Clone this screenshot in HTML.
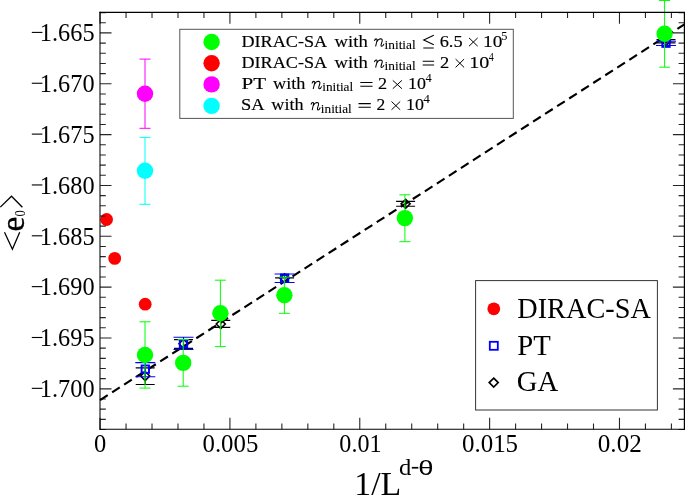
<!DOCTYPE html><html><head><meta charset="utf-8"><style>html,body{margin:0;padding:0;background:#fff;width:685px;height:495px;overflow:hidden}svg{display:block}text{font-family:"Liberation Serif",serif;fill:#000}</style></head><body>
<svg width="685" height="495" viewBox="0 0 685 495">
<defs><filter id="bl" x="-5%" y="-5%" width="110%" height="110%"><feGaussianBlur stdDeviation="0.4"/></filter></defs><g filter="url(#bl)"><rect x="-10" y="-10" width="705" height="515" fill="#fff"/>
<line x1="100.07" y1="400.1" x2="684.40" y2="24.38" stroke="#000" stroke-width="2.15" stroke-dasharray="9.1 5.2"/>
<path d="M145.2 367.8V384.5M135.7 367.8H154.7M135.7 384.5H154.7" stroke="#000" stroke-width="1.15" fill="none"/>
<path d="M145.2 371.50L149.70 376.0L145.2 380.50L140.70 376.0Z" stroke="#000" stroke-width="1.6" fill="none"/>
<path d="M183.5 339.6V348.4M174.0 339.6H193.0M174.0 348.4H193.0" stroke="#000" stroke-width="1.15" fill="none"/>
<path d="M183.5 339.30L188.00 343.8L183.5 348.30L179.00 343.8Z" stroke="#000" stroke-width="1.6" fill="none"/>
<path d="M220.75 320.3V327.4M211.25 320.3H230.25M211.25 327.4H230.25" stroke="#000" stroke-width="1.15" fill="none"/>
<path d="M220.75 319.50L225.25 324.0L220.75 328.50L216.25 324.0Z" stroke="#000" stroke-width="1.6" fill="none"/>
<path d="M284.6 277.75V277.95M275.1 277.75H294.1M275.1 277.95H294.1" stroke="#000" stroke-width="1.15" fill="none"/>
<path d="M284.6 273.80L289.10 278.3L284.6 282.80L280.10 278.3Z" stroke="#000" stroke-width="1.6" fill="none"/>
<path d="M405.6 201.4V206.2M396.1 201.4H415.1M396.1 206.2H415.1" stroke="#000" stroke-width="1.15" fill="none"/>
<path d="M405.6 199.35L410.10 203.85L405.6 208.35L401.10 203.85Z" stroke="#000" stroke-width="1.6" fill="none"/>
<path d="M666.0 39.6V42.9M656.5 39.6H675.5M656.5 42.9H675.5" stroke="#000" stroke-width="1.15" fill="none"/>
<path d="M666.0 36.70L670.50 41.2L666.0 45.70L661.50 41.2Z" stroke="#000" stroke-width="1.6" fill="none"/>
<path d="M145.3 362.6V376.7M135.3 362.6H155.3M135.3 376.7H155.3" stroke="#0000ff" stroke-width="1.05" fill="none"/>
<rect x="141.60000000000002" y="365.5" width="7.4" height="7.4" stroke="#0000ff" stroke-width="1.9" fill="none"/>
<path d="M183.5 337.2V349.4M173.5 337.2H193.5M173.5 349.4H193.5" stroke="#0000ff" stroke-width="1.05" fill="none"/>
<rect x="179.8" y="339.90000000000003" width="7.4" height="7.4" stroke="#0000ff" stroke-width="1.9" fill="none"/>
<path d="M284.6 274.0V282.5M274.6 274.0H294.6M274.6 282.5H294.6" stroke="#0000ff" stroke-width="1.05" fill="none"/>
<rect x="280.90000000000003" y="274.5" width="7.4" height="7.4" stroke="#0000ff" stroke-width="1.9" fill="none"/>
<path d="M666.0 41.3V45.4M656.0 41.3H676.0M656.0 45.4H676.0" stroke="#0000ff" stroke-width="1.05" fill="none"/>
<rect x="662.3" y="39.5" width="7.4" height="7.4" stroke="#0000ff" stroke-width="1.9" fill="none"/>
<path d="M145.0 321.8V388.1M139.5 321.8H150.5M139.5 388.1H150.5" stroke="#00ff00" stroke-width="1.0" fill="none"/>
<path d="M183.2 339.6V386.2M177.7 339.6H188.7M177.7 386.2H188.7" stroke="#00ff00" stroke-width="1.0" fill="none"/>
<path d="M220.4 280.2V346.6M214.9 280.2H225.9M214.9 346.6H225.9" stroke="#00ff00" stroke-width="1.0" fill="none"/>
<path d="M284.4 277.1V313.3M278.9 277.1H289.9M278.9 313.3H289.9" stroke="#00ff00" stroke-width="1.0" fill="none"/>
<path d="M404.9 194.8V241.7M399.4 194.8H410.4M399.4 241.7H410.4" stroke="#00ff00" stroke-width="1.0" fill="none"/>
<path d="M664.6 0.5V67.2M659.1 0.5H670.1M659.1 67.2H670.1" stroke="#00ff00" stroke-width="1.0" fill="none"/>
<circle cx="145.0" cy="355.0" r="8.2" fill="#00ff00"/>
<circle cx="183.2" cy="362.9" r="8.2" fill="#00ff00"/>
<circle cx="220.4" cy="313.2" r="8.2" fill="#00ff00"/>
<circle cx="284.4" cy="295.2" r="8.2" fill="#00ff00"/>
<circle cx="404.9" cy="218.1" r="8.2" fill="#00ff00"/>
<circle cx="664.6" cy="33.7" r="8.2" fill="#00ff00"/>
<circle cx="106.6" cy="219.5" r="6.4" fill="#ff0000"/>
<circle cx="114.7" cy="258.4" r="6.4" fill="#ff0000"/>
<circle cx="145.2" cy="304.2" r="6.4" fill="#ff0000"/>
<path d="M145.0 59.1V128.3M139.5 59.1H150.5M139.5 128.3H150.5" stroke="#ff00ff" stroke-width="1.0" fill="none"/>
<circle cx="145.0" cy="93.7" r="8.2" fill="#ff00ff"/>
<path d="M145.0 137.4V204.3M139.5 137.4H150.5M139.5 204.3H150.5" stroke="#00ffff" stroke-width="1.0" fill="none"/>
<circle cx="145.0" cy="170.8" r="8.2" fill="#00ffff"/>
<path d="M100.0 429.51h5.8M684.4 429.51h-5.8M100.0 419.34h5.8M684.4 419.34h-5.8M100.0 409.17h5.8M684.4 409.17h-5.8M100.0 399.00h5.8M684.4 399.00h-5.8M100.0 388.83h11.5M684.4 388.83h-11.5M100.0 378.67h5.8M684.4 378.67h-5.8M100.0 368.50h5.8M684.4 368.50h-5.8M100.0 358.33h5.8M684.4 358.33h-5.8M100.0 348.16h5.8M684.4 348.16h-5.8M100.0 337.99h11.5M684.4 337.99h-11.5M100.0 327.82h5.8M684.4 327.82h-5.8M100.0 317.65h5.8M684.4 317.65h-5.8M100.0 307.48h5.8M684.4 307.48h-5.8M100.0 297.31h5.8M684.4 297.31h-5.8M100.0 287.14h11.5M684.4 287.14h-11.5M100.0 276.98h5.8M684.4 276.98h-5.8M100.0 266.81h5.8M684.4 266.81h-5.8M100.0 256.64h5.8M684.4 256.64h-5.8M100.0 246.47h5.8M684.4 246.47h-5.8M100.0 236.30h11.5M684.4 236.30h-11.5M100.0 226.13h5.8M684.4 226.13h-5.8M100.0 215.96h5.8M684.4 215.96h-5.8M100.0 205.79h5.8M684.4 205.79h-5.8M100.0 195.62h5.8M684.4 195.62h-5.8M100.0 185.45h11.5M684.4 185.45h-11.5M100.0 175.29h5.8M684.4 175.29h-5.8M100.0 165.12h5.8M684.4 165.12h-5.8M100.0 154.95h5.8M684.4 154.95h-5.8M100.0 144.78h5.8M684.4 144.78h-5.8M100.0 134.61h11.5M684.4 134.61h-11.5M100.0 124.44h5.8M684.4 124.44h-5.8M100.0 114.27h5.8M684.4 114.27h-5.8M100.0 104.10h5.8M684.4 104.10h-5.8M100.0 93.93h5.8M684.4 93.93h-5.8M100.0 83.76h11.5M684.4 83.76h-11.5M100.0 73.60h5.8M684.4 73.60h-5.8M100.0 63.43h5.8M684.4 63.43h-5.8M100.0 53.26h5.8M684.4 53.26h-5.8M100.0 43.09h5.8M684.4 43.09h-5.8M100.0 32.92h11.5M684.4 32.92h-11.5M100.0 22.75h5.8M684.4 22.75h-5.8M100.0 12.58h5.8M684.4 12.58h-5.8M100.07 429.25v-11.5M100.07 12.3v11.5M126.04 429.25v-5.8M126.04 12.3v5.8M152.01 429.25v-5.8M152.01 12.3v5.8M177.98 429.25v-5.8M177.98 12.3v5.8M203.95 429.25v-5.8M203.95 12.3v5.8M229.92 429.25v-11.5M229.92 12.3v11.5M255.89 429.25v-5.8M255.89 12.3v5.8M281.86 429.25v-5.8M281.86 12.3v5.8M307.83 429.25v-5.8M307.83 12.3v5.8M333.80 429.25v-5.8M333.80 12.3v5.8M359.77 429.25v-11.5M359.77 12.3v11.5M385.74 429.25v-5.8M385.74 12.3v5.8M411.71 429.25v-5.8M411.71 12.3v5.8M437.68 429.25v-5.8M437.68 12.3v5.8M463.65 429.25v-5.8M463.65 12.3v5.8M489.62 429.25v-11.5M489.62 12.3v11.5M515.59 429.25v-5.8M515.59 12.3v5.8M541.56 429.25v-5.8M541.56 12.3v5.8M567.53 429.25v-5.8M567.53 12.3v5.8M593.50 429.25v-5.8M593.50 12.3v5.8M619.47 429.25v-11.5M619.47 12.3v11.5M645.44 429.25v-5.8M645.44 12.3v5.8M671.41 429.25v-5.8M671.41 12.3v5.8" stroke="#000" stroke-width="1.1" stroke-opacity="0.85" fill="none"/>
<path d="M100.0 11.65V429.8" stroke="#000" stroke-width="1.05" fill="none"/>
<path d="M99.5 429.25H685.05" stroke="#000" stroke-width="1.1" fill="none"/>
<path d="M99.5 12.3H685.05M684.4 12.3V429.8" stroke="#000" stroke-width="1.2" fill="none"/>
<text transform="translate(39.83,41.12) scale(0.9304,1)" font-size="26.15">1.665</text>
<rect x="31.8" y="31.87" width="10.6" height="1.1" fill="#000"/>
<text transform="translate(39.83,91.96) scale(0.9304,1)" font-size="26.15">1.670</text>
<rect x="31.8" y="82.71" width="10.6" height="1.1" fill="#000"/>
<text transform="translate(39.83,142.81) scale(0.9304,1)" font-size="26.15">1.675</text>
<rect x="31.8" y="133.56" width="10.6" height="1.1" fill="#000"/>
<text transform="translate(39.83,193.65) scale(0.9304,1)" font-size="26.15">1.680</text>
<rect x="31.8" y="184.40" width="10.6" height="1.1" fill="#000"/>
<text transform="translate(39.83,244.50) scale(0.9304,1)" font-size="26.15">1.685</text>
<rect x="31.8" y="235.25" width="10.6" height="1.1" fill="#000"/>
<text transform="translate(39.83,295.34) scale(0.9304,1)" font-size="26.15">1.690</text>
<rect x="31.8" y="286.09" width="10.6" height="1.1" fill="#000"/>
<text transform="translate(39.83,346.19) scale(0.9304,1)" font-size="26.15">1.695</text>
<rect x="31.8" y="336.94" width="10.6" height="1.1" fill="#000"/>
<text transform="translate(39.83,397.03) scale(0.9304,1)" font-size="26.15">1.700</text>
<rect x="31.8" y="387.78" width="10.6" height="1.1" fill="#000"/>
<text transform="translate(94.02,452.04) scale(0.9568,1)" font-size="25.63">0</text>
<text transform="translate(202.51,452.04) scale(0.9691,1)" font-size="25.63">0.005</text>
<text transform="translate(339.34,452.04) scale(0.9411,1)" font-size="25.63">0.01</text>
<text transform="translate(462.00,452.04) scale(0.9727,1)" font-size="25.63">0.015</text>
<text transform="translate(597.79,452.04) scale(0.9807,1)" font-size="25.63">0.02</text>
<text transform="translate(354.33,495.30) scale(0.9756,1)" font-size="34.66">1/L</text>
<text transform="translate(399.04,474.77) scale(1.0777,1)" font-size="22.84">d</text>
<rect x="411.8" y="466.9" width="6.5" height="1.7" fill="#000"/>
<text transform="translate(418.23,474.80) scale(1.3924,1)" font-size="19.73" style="font-family:&quot;Liberation Sans&quot;,sans-serif">θ</text>
<path d="M0.3 207.1L11.5 196.2L22.4 207.3" stroke="#000" stroke-width="1.3" fill="none"/>
<path d="M4.5 232.2L12.4 249.2L19.7 232.2" stroke="#000" stroke-width="1.3" fill="none"/>
<g transform="translate(24.2,231.5) rotate(-90) scale(0.97,1)"><text x="0" y="0" font-size="34.5" stroke="#000" stroke-width="0.35">e</text></g>
<g transform="translate(24.6,216.6) rotate(-90) scale(0.9,1)"><text x="0" y="0" font-size="14">0</text></g>
<rect x="179.8" y="29.3" width="333.5" height="89.1" fill="none" stroke="#555" stroke-width="1"/>
<circle cx="211.6" cy="42.0" r="8.2" fill="#00ff00"/>
<circle cx="211.6" cy="63.3" r="8.2" fill="#ff0000"/>
<circle cx="211.6" cy="84.4" r="8.2" fill="#ff00ff"/>
<circle cx="211.6" cy="105.9" r="8.2" fill="#00ffff"/>
<text transform="translate(241.46,46.50) scale(1.0427,1)" font-size="17.4" stroke="#000" stroke-width="0.15">DIRAC-SA</text>
<text transform="translate(334.60,46.50) scale(1.0713,1)" font-size="17.4" stroke="#000" stroke-width="0.15">with</text>
<g transform="translate(374.10,46.50) scale(1.000,1)"><path d="M0.3 -5.6Q0.9 -7.7 2.3 -7.6Q3.3 -7.4 2.9 -5.9L1.5 0M2.4 -4.2Q4.2 -7.7 6.6 -7.7Q8.6 -7.6 8.0 -5.2L7.1 -2.2Q6.6 -0.4 7.6 -0.2Q8.8 0 9.9 -2.6" stroke="#000" stroke-width="1.05" fill="none"/></g>
<text transform="translate(384.53,48.90) scale(1.0617,1)" font-size="12.6" stroke="#000" stroke-width="0.1">initial</text>
<path d="M433.8 35.3L423.7 40.0L433.8 44.8M423.3 48.0H433.8" stroke="#000" stroke-width="1.05" fill="none"/>
<text transform="translate(439.66,46.50) scale(1.0561,1)" font-size="17.4" stroke="#000" stroke-width="0.15">6.5</text>
<path d="M469.0 37.9L477.7 46.2M477.7 37.9L469.0 46.2" stroke="#000" stroke-width="1.0" fill="none"/>
<text transform="translate(483.06,46.50) scale(1.1100,1)" font-size="17.4" stroke="#000" stroke-width="0.15">10</text>
<text transform="translate(501.37,39.80) scale(1.0381,1)" font-size="11.8">5</text>
<text transform="translate(241.46,67.70) scale(1.0427,1)" font-size="17.4" stroke="#000" stroke-width="0.15">DIRAC-SA</text>
<text transform="translate(334.60,67.70) scale(1.0713,1)" font-size="17.4" stroke="#000" stroke-width="0.15">with</text>
<g transform="translate(374.10,67.70) scale(1.000,1)"><path d="M0.3 -5.6Q0.9 -7.7 2.3 -7.6Q3.3 -7.4 2.9 -5.9L1.5 0M2.4 -4.2Q4.2 -7.7 6.6 -7.7Q8.6 -7.6 8.0 -5.2L7.1 -2.2Q6.6 -0.4 7.6 -0.2Q8.8 0 9.9 -2.6" stroke="#000" stroke-width="1.05" fill="none"/></g>
<text transform="translate(384.53,70.10) scale(1.0617,1)" font-size="12.6" stroke="#000" stroke-width="0.1">initial</text>
<path d="M422.7 61.2H434.1M422.7 64.9H434.1" stroke="#000" stroke-width="1.05" fill="none"/>
<text transform="translate(439.97,67.70) scale(1.0632,1)" font-size="17.4" stroke="#000" stroke-width="0.15">2</text>
<path d="M455.6 59.1L464.09999999999997 67.4M464.09999999999997 59.1L455.6 67.4" stroke="#000" stroke-width="1.0" fill="none"/>
<text transform="translate(469.29,67.70) scale(1.1560,1)" font-size="17.4" stroke="#000" stroke-width="0.15">10</text>
<text transform="translate(488.70,61.00) scale(0.8566,1)" font-size="11.8">4</text>
<text transform="translate(241.47,89.00) scale(1.2110,1)" font-size="17.4" stroke="#000" stroke-width="0.15">PT</text>
<text transform="translate(273.00,89.00) scale(1.0485,1)" font-size="17.4" stroke="#000" stroke-width="0.15">with</text>
<g transform="translate(311.70,89.00) scale(1.010,1)"><path d="M0.3 -5.6Q0.9 -7.7 2.3 -7.6Q3.3 -7.4 2.9 -5.9L1.5 0M2.4 -4.2Q4.2 -7.7 6.6 -7.7Q8.6 -7.6 8.0 -5.2L7.1 -2.2Q6.6 -0.4 7.6 -0.2Q8.8 0 9.9 -2.6" stroke="#000" stroke-width="1.05" fill="none"/></g>
<text transform="translate(322.23,91.40) scale(1.0547,1)" font-size="12.6" stroke="#000" stroke-width="0.1">initial</text>
<path d="M360.3 82.5H372.5M360.3 86.2H372.5" stroke="#000" stroke-width="1.05" fill="none"/>
<text transform="translate(377.98,89.00) scale(1.0489,1)" font-size="17.4" stroke="#000" stroke-width="0.15">2</text>
<path d="M392.8 80.4L401.9 88.7M401.9 80.4L392.8 88.7" stroke="#000" stroke-width="1.0" fill="none"/>
<text transform="translate(408.07,89.00) scale(1.0312,1)" font-size="17.4" stroke="#000" stroke-width="0.15">10</text>
<text transform="translate(425.45,82.30) scale(1.0570,1)" font-size="11.8">4</text>
<text transform="translate(240.90,110.10) scale(1.0588,1)" font-size="17.4" stroke="#000" stroke-width="0.15">SA</text>
<text transform="translate(271.30,110.10) scale(1.0452,1)" font-size="17.4" stroke="#000" stroke-width="0.15">with</text>
<g transform="translate(310.70,110.10) scale(0.971,1)"><path d="M0.3 -5.6Q0.9 -7.7 2.3 -7.6Q3.3 -7.4 2.9 -5.9L1.5 0M2.4 -4.2Q4.2 -7.7 6.6 -7.7Q8.6 -7.6 8.0 -5.2L7.1 -2.2Q6.6 -0.4 7.6 -0.2Q8.8 0 9.9 -2.6" stroke="#000" stroke-width="1.05" fill="none"/></g>
<text transform="translate(320.84,112.50) scale(1.0513,1)" font-size="12.6" stroke="#000" stroke-width="0.1">initial</text>
<path d="M358.5 103.6H370.8M358.5 107.3H370.8" stroke="#000" stroke-width="1.05" fill="none"/>
<text transform="translate(376.41,110.10) scale(1.0057,1)" font-size="17.4" stroke="#000" stroke-width="0.15">2</text>
<path d="M391.5 101.5L400.2 109.8M400.2 101.5L391.5 109.8" stroke="#000" stroke-width="1.0" fill="none"/>
<text transform="translate(406.07,110.10) scale(1.0312,1)" font-size="17.4" stroke="#000" stroke-width="0.15">10</text>
<text transform="translate(423.23,103.40) scale(1.1299,1)" font-size="11.8">4</text>
<rect x="475.6" y="280.6" width="181.8" height="129.4" fill="none" stroke="#333" stroke-width="1"/>
<circle cx="493.8" cy="308.8" r="6.4" fill="#ff0000"/>
<rect x="489.8" y="341.8" width="8" height="8" stroke="#0000ff" stroke-width="1.8" fill="none"/>
<path d="M493.7 378.1L498.2 382.6L493.7 387.1L489.2 382.6Z" stroke="#000" stroke-width="1.7" fill="none"/>
<text transform="translate(517.25,318.00) scale(0.9409,1)" font-size="30.08">DIRAC-SA</text>
<text transform="translate(517.24,354.90) scale(0.9756,1)" font-size="29.47">PT</text>
<text transform="translate(516.65,391.41) scale(0.9878,1)" font-size="29.1">GA</text>
</g></svg></body></html>
